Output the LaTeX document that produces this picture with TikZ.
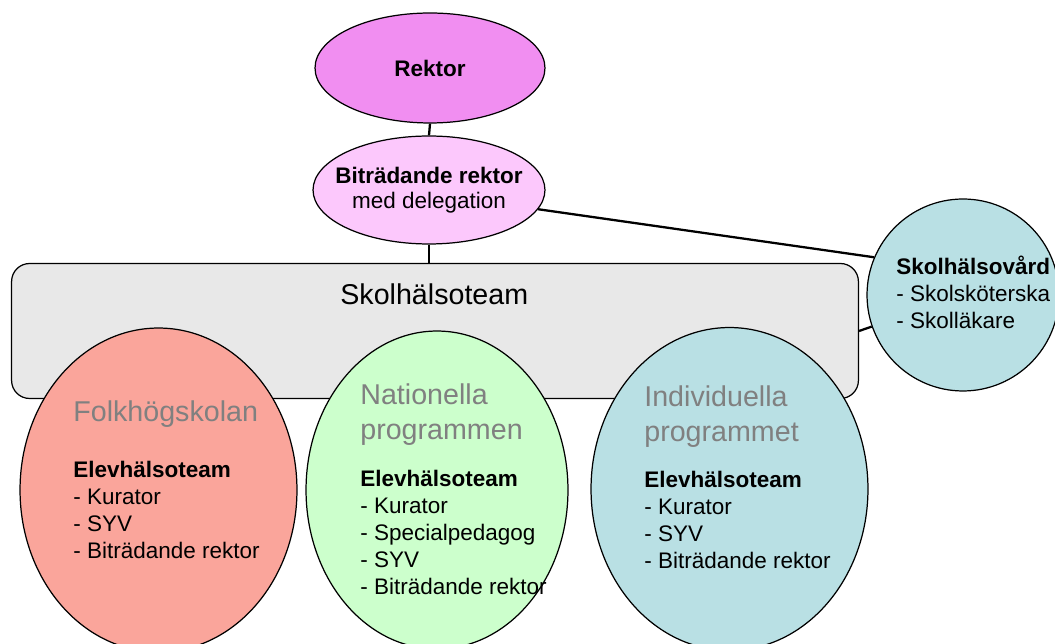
\documentclass[tikz,border=0pt]{standalone}
\usepackage{fontspec}
\setmainfont{Liberation Sans}
\usetikzlibrary{shapes.geometric}
\definecolor{rektorpink}{RGB}{241,142,241}
\definecolor{bitrpink}{RGB}{252,200,252}
\definecolor{teamgray}{RGB}{232,232,232}
\definecolor{vardblue}{RGB}{185,224,228}
\definecolor{folkred}{RGB}{250,165,155}
\definecolor{natgreen}{RGB}{204,255,204}
\definecolor{titlegray}{RGB}{128,128,128}
\begin{document}
\begin{tikzpicture}[x=0.02cm, y=-0.02cm]
				\tikzset{
					blob/.style={ellipse, draw=black, line width=0.7pt, inner sep=0},
					link/.style={line width=1.3pt},
					item/.style={anchor=base west, inner sep=0, font=\fontsize{12.8}{15}\selectfont},
					head/.style={item, font=\fontsize{12.8}{15}\selectfont\bfseries},
					title/.style={anchor=base west, inner sep=0, text=titlegray, font=\fontsize{16.3}{20}\selectfont}
				}
				\useasboundingbox (0,0) rectangle (1055,644);
				% ledning
				\node[blob, fill=rektorpink, minimum width=4.6cm, minimum height=2.2cm] (rektor) at (430,68) {};
				\node[font=\fontsize{12.8}{15}\selectfont\bfseries, inner sep=0] (rektortext) at (rektor) {Rektor};
				\node[blob, fill=bitrpink, minimum width=4.64cm, minimum height=2.16cm] (bitr) at (429,190) {};
				\node[font=\fontsize{12.8}{14.2}\selectfont, align=center, inner sep=0] (bitrtext) at (bitr)
				{\textbf{Biträdande rektor}\\med delegation};
				% team
				\node[draw, fill=teamgray, line width=0.7pt, rounded corners=0.36cm, inner sep=0,
					minimum width=16.94cm, minimum height=2.7cm] (team) at (435,331) {};
				\node[title, text=black] (teamtitle) at (340,305) {Skolhälsoteam};
				% skolhälsovård
				\node[blob, fill=vardblue, minimum width=3.84cm, minimum height=3.84cm] (vard) at (963,295) {};
				\node[head] (vardhead) at (896,275) {Skolhälsovård};
				\foreach \txt [count=\i] in {Skolsköterska, Skolläkare}
					\node[item] (varditem\i) at (896,{275+27*\i}) {- \txt};
				\draw[link] (rektor.south) -- (bitr.north);
				\draw[link] (bitr.south) -- (bitr.south |- team.north);
				\draw[link] (bitr.-10) -- (vard.157);
				\draw[link] (team.east) -- (vard);
				% skolformer
				\node[blob, fill=folkred, minimum width=5.54cm, minimum height=6.48cm] (folk) at (158.5,490) {};
				\node[blob, fill=natgreen, minimum width=5.24cm, minimum height=6.36cm] (nat) at (437,490) {};
				\node[blob, fill=vardblue, minimum width=5.54cm, minimum height=6.46cm] (ind) at (729.5,489) {};

				\node[title] (folktitle) at (73,422) {Folkhögskolan};
				\node[head] (folkhead) at (73,478) {Elevhälsoteam};
				\foreach \txt [count=\i] in {Kurator, SYV, Biträdande rektor}
					\node[item] (folkitem\i) at (73,{478+27*\i}) {- \txt};

				\node[title] (nattitle1) at (360,405) {Nationella};
				\node[title] (nattitle2) at (360,440) {programmen};
				\node[head] (nathead) at (360,487) {Elevhälsoteam};
				\foreach \txt [count=\i] in {Kurator, Specialpedagog, SYV, Biträdande rektor}
					\node[item] (natitem\i) at (360,{487+27*\i}) {- \txt};

				\node[title] (indtitle1) at (644,407) {Individuella};
				\node[title] (indtitle2) at (644,442) {programmet};
				\node[head] (indhead) at (644,488) {Elevhälsoteam};
				\foreach \txt [count=\i] in {Kurator, SYV, Biträdande rektor}
					\node[item] (inditem\i) at (644,{488+27*\i}) {- \txt};
			\end{tikzpicture}
\end{document}
